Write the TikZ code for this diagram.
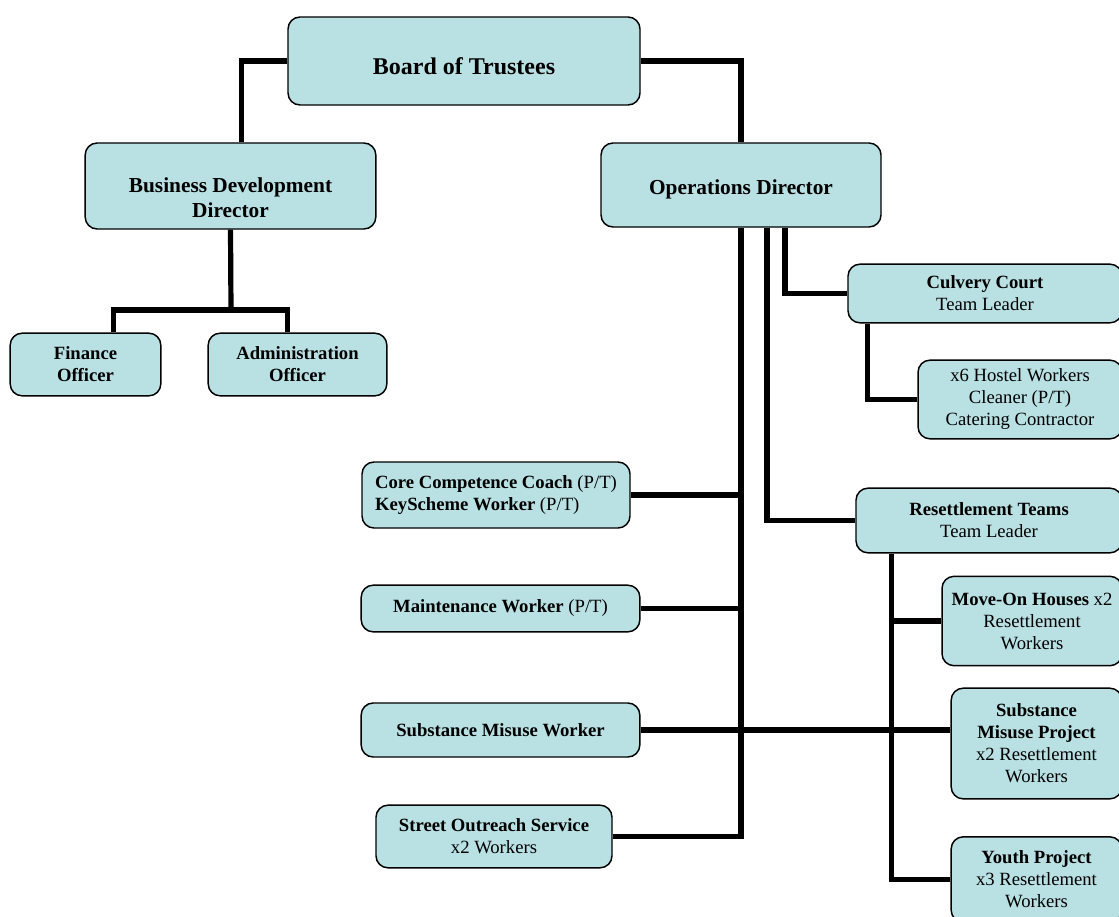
\documentclass[tikz,border=0pt]{standalone}
\usepackage{fontspec}
\setmainfont{Liberation Serif}
\definecolor{boxcyan}{RGB}{185, 224, 227}
\usepackage{tikz}
\usetikzlibrary{positioning, calc}

\begin{document}
\begin{tikzpicture}[x=0.75pt, y=-0.75pt,
    orgbox/.style={draw=black, line width=1.1pt, fill=boxcyan, rounded corners=9pt, align=center, inner sep=2pt, font=\fontsize{14}{16.5}\selectfont},
    link/.style={line width=3.9pt, black}]
  \useasboundingbox (0,0) rectangle (1119,916);
  \clip (0,0) rectangle (1119,916);

  % Top levels
  \node[orgbox, minimum width=264pt, minimum height=66pt, font=\fontsize{18}{21}\selectfont] (board) at (464,61) {\rule{0pt}{20pt}\textbf{Board of Trustees}};
  \node[orgbox, minimum width=218pt, minimum height=64.5pt, font=\fontsize{16}{19}\selectfont] (bdd) at (230.5,186) {\rule{0pt}{29pt}\textbf{Business Development}\\\textbf{Director}};
  \node[orgbox, minimum width=210pt, minimum height=63pt, font=\fontsize{16}{19}\selectfont] (ops) at (741,185) {\rule{0pt}{17pt}\textbf{Operations Director}};

  % Business development side
  \node[orgbox, minimum width=113pt, minimum height=47pt] (fin) at (85.5,364.5) {\textbf{Finance}\\\textbf{Officer}};
  \node[orgbox, minimum width=134pt, minimum height=47pt] (adm) at (297.5,364.5) {\textbf{Administration}\\\textbf{Officer}};

  % Operations, left column
  \node[orgbox, minimum width=201pt, minimum height=49.5pt, align=left] (core) at (496,495) {\textbf{Core Competence Coach} (P/T)\\\textbf{KeyScheme Worker} (P/T)};
  \node[orgbox, minimum width=209pt, minimum height=35pt] (maint) at (500.5,608.5) {\textbf{Maintenance Worker} (P/T)};
  \node[orgbox, minimum width=209pt, minimum height=40.5pt] (smw) at (500.5,730) {\textbf{Substance Misuse Worker}};
  \node[orgbox, minimum width=177pt, minimum height=47pt] (street) at (494,836.5) {\textbf{Street Outreach Service}\\x2 Workers};

  % Operations, right column
  \node[orgbox, minimum width=205.5pt, minimum height=44pt] (culv) at (985,293.5) {\textbf{Culvery Court}\\Team Leader};
  \node[orgbox, minimum width=153pt, minimum height=59pt] (hostel) at (1020,399.5) {x6 Hostel Workers\\Cleaner (P/T)\\Catering Contractor};
  \node[orgbox, minimum width=199.5pt, minimum height=48.5pt] (resett) at (989,520.5) {\textbf{Resettlement Teams}\\Team Leader};
  \node[orgbox, minimum width=135pt, minimum height=67pt] (moveon) at (1032,621) {\textbf{Move-On Houses} x2\\Resettlement\\Workers};
  \node[orgbox, minimum width=128pt, minimum height=83pt] (smp) at (1036.5,743.5) {\textbf{Substance}\\\textbf{Misuse Project}\\x2 Resettlement\\Workers};
  \node[orgbox, minimum width=128pt, minimum height=64pt] (youth) at (1036.5,879.5) {\textbf{Youth Project}\\x3 Resettlement\\Workers};

  % Links from the board
  \draw[link] (board.west) -| ([xshift=8pt]bdd.north);
  \draw[link] (board.east) -| (ops.north);

  % Business development links
  \coordinate (bddsplit) at (231,310);
  \draw[link] (bdd.south) -- (bddsplit);
  \draw[link] ([xshift=21pt]fin.north) |- (bddsplit) -| ([xshift=-7.5pt]adm.north);

  % Operations trunk
  \draw[link] (ops.south) |- (street.east);
  \draw[link] (core.east) -- (core.east -| ops.south);
  \draw[link] (maint.east) -- (maint.east -| ops.south);
  \draw[link] (smw.east) -- (smw.east -| smp.west);
  \draw[link] ([xshift=19.5pt]ops.south) |- (resett.west);
  \draw[link] ([xshift=33pt]ops.south) |- (culv.west);
  \draw[link] ([xshift=15pt]culv.south west) |- (hostel.west);

  % Resettlement links
  \coordinate (resettdrop) at ([xshift=27pt]resett.south west);
  \draw[link] (resettdrop) |- (youth.west);
  \draw[link] (moveon.west) -- (moveon.west -| resettdrop);
\end{tikzpicture}
\end{document}
